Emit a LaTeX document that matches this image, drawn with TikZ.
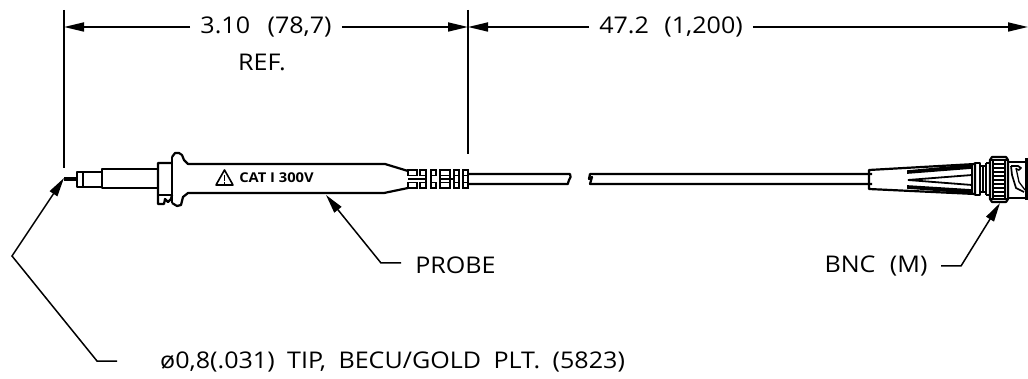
\documentclass[tikz,border=0pt]{standalone}
\usepackage{fontspec}
\setmainfont[FakeStretch=1.09]{Open Sans}
\usetikzlibrary{arrows.meta}
\tikzset{
  x=1pt,y=-1pt,
  dimline/.style={line width=1.7pt},
  tipped/.style={-{Triangle[length=20pt,width=9pt]}},
  leader/.style={line width=1.5pt,-{Triangle[length=19pt,width=9pt]}},
  extline/.style={line width=1.7pt},
  lbl/.style={font=\fontsize{23}{24}\selectfont,inner sep=0pt,text=black},
  dimlbl/.style={lbl,inner xsep=10pt},
  part/.style={line width=2.2pt,line join=round},
  fine/.style={line width=1.3pt},
}
\begin{document}
\begin{tikzpicture}
\useasboundingbox (0,0) rectangle (1028,379);
% witness lines
\coordinate (e1t) at (64,10); \coordinate (e1b) at (64,168);
\coordinate (e2t) at (468,10); \coordinate (e2b) at (468,154);
\coordinate (d1l) at (64,27); \coordinate (d1r) at (468,27);
\coordinate (d2r) at (1028,27);
\draw[extline] (e1t) -- (e1b);
\draw[extline] (e2t) -- (e2b);
% dimensions
\node[dimlbl] (d1) at (266,27) {3.10 \hspace{11pt}(78,7)};
\node[lbl] (ref) at (262,62) {REF.};
\node[dimlbl] (d2) at (671,27) {47.2 \hspace{9pt}(1,200)};
\draw[dimline,tipped] (d1.west) -- (d1l);
\draw[dimline,tipped] (d1.east) -- (d1r);
\draw[dimline,tipped] (d2.west) -- (d1r);
\draw[dimline,tipped] (d2.east) -- (d2r);
% probe tip and barrel
\draw[fine] (64,178) -- (78,178) (64,180) -- (78,180);
\draw[part] (77,172) rectangle (102,187);
\draw[fine] (83,172) -- (83,187);
\draw[part] (102,169) rectangle (158,188);
% collar
\draw[part] (172,163) -- (158,163) -- (158,204) -- (164,204) -- (165,199) -- (168,202) -- (171,199) -- (172,195);
\draw[fine] (158,195) -- (172,195);
\draw[line width=2.4pt] (172,157) -- (172,203);
% flange and body
\draw[part] (172,157) -- (175,153) -- (179,153) -- (182,155) -- (184,160) -- (188,164)
  -- (385,164) -- (408,171);
\draw[part] (172,203) -- (177,206) -- (181,205) -- (183,197) -- (188,193)
  -- (384,193) -- (408,188);
% warning mark
\coordinate (w1) at (216,185); \coordinate (w2) at (233,185); \coordinate (w3) at (224.5,170);
\draw[line width=1.6pt,line join=round] (w1) -- (w2) -- (w3) -- cycle;
\draw[line width=1.6pt] (224.5,175) -- (224.5,181) (224.5,182) -- (224.5,184);
\node[inner sep=0pt,font=\fontsize{13.5}{14}\selectfont\bfseries] (cat) at (276.5,178) {CAT I 300V};
% strain relief
\draw[part] (408,171) -- (408,176) (408,182) -- (408,188);
\foreach \a/\b in {408/417,420/426,431/436,440/450,454/459,463/468}{
  \draw[line width=1.7pt] (\a,170) rectangle (\b,175.5);
  \draw[line width=1.7pt] (\a,182.5) rectangle (\b,188);
}
\foreach \a in {426,431,440,450,454,459,463,468}{
  \draw[line width=1.7pt] (\a,170) -- (\a,188);
}
\draw[line width=1.7pt] (408,179) -- (426,179) (440,179) -- (454,179);
% cable, first part
\draw[part] (469,174) -- (570,174) .. controls (572,176) and (570,178) .. (569,180) .. controls (567,182) and (569,184) .. (568,184) -- (469,184);
% cable, second part
\draw[part] (872,174) -- (590,174) -- (589,179) -- (592,177) -- (590,184) -- (872,184);
% BNC boot
\draw[part] (869,170) -- (975,164) -- (975,194) -- (869,189) -- cycle;
\draw[line width=1.6pt,fill=black] (908,171) -- (972,165) -- (972,168) -- (908,173) -- cycle;
\draw[line width=1.6pt,fill=black] (908,188) -- (972,193) -- (972,190) -- (908,186) -- cycle;
\draw[line width=1.8pt] (972,175) -- (908,180) -- (972,185);
\draw[fine] (972,165) -- (972,193);
% BNC collar
\draw[part] (975,163) rectangle (980,195);
\draw[part] (980,166) rectangle (986,192);
\draw[fine] (983,166) -- (983,192);
\draw[part] (986,163) -- (990,163) (986,195) -- (990,195);
\draw[part] (986,163) -- (986,195);
% knurled nut
\draw[part] (990,160) -- (992,157) -- (1006,157) -- (1008,160) -- (1008,199) -- (1006,202) -- (992,202) -- (990,199) -- cycle;
\draw[line width=2pt] (990,160) -- (1008,160) (990,199) -- (1008,199);
\draw[fine] (993,160) -- (993,199) (1005,160) -- (1005,199);
\foreach \y in {164,168,172,176,180,184,188,192,196}{
  \draw[fine] (993,\y) -- (1005,\y);
}
% BNC end
\draw[part] (1008,162) -- (1026,162) (1008,198) -- (1026,198);
\draw[line width=2.6pt] (1026.5,158) -- (1026.5,200);
\draw[line width=1.7pt,line join=round] (1011,166) -- (1018,166) -- (1021,168) -- (1019,170) -- (1016,169)
  (1011,166) -- (1012,175) -- (1016,188) -- (1024,192);
\draw[fine] (1016,168) -- (1019,182) -- (1025,190);
% leaders
\node[lbl,anchor=west] (tip) at (160,362) {ø0,8(.031) \hspace{6pt}TIP, \hspace{6pt}BECU/GOLD \hspace{6pt}PLT. \hspace{6pt}(5823)};
\node[lbl] (probe) at (455.5,265) {PROBE};
\node[lbl] (bnc) at (876,266) {BNC \hspace{8pt}(M)};
\coordinate (t1) at (117,361); \coordinate (t2) at (97,361); \coordinate (t3) at (12,256); \coordinate (t4) at (64,178);
\coordinate (p1) at (401,263); \coordinate (p2) at (381,263); \coordinate (p3) at (326,195);
\coordinate (b1) at (941,266); \coordinate (b2) at (961,266); \coordinate (b3) at (1000,203);
\draw[leader] (t1) -- (t2) -- (t3) -- (t4);
\draw[leader] (p1) -- (p2) -- (p3);
\draw[leader] (b1) -- (b2) -- (b3);
\end{tikzpicture}
\end{document}
